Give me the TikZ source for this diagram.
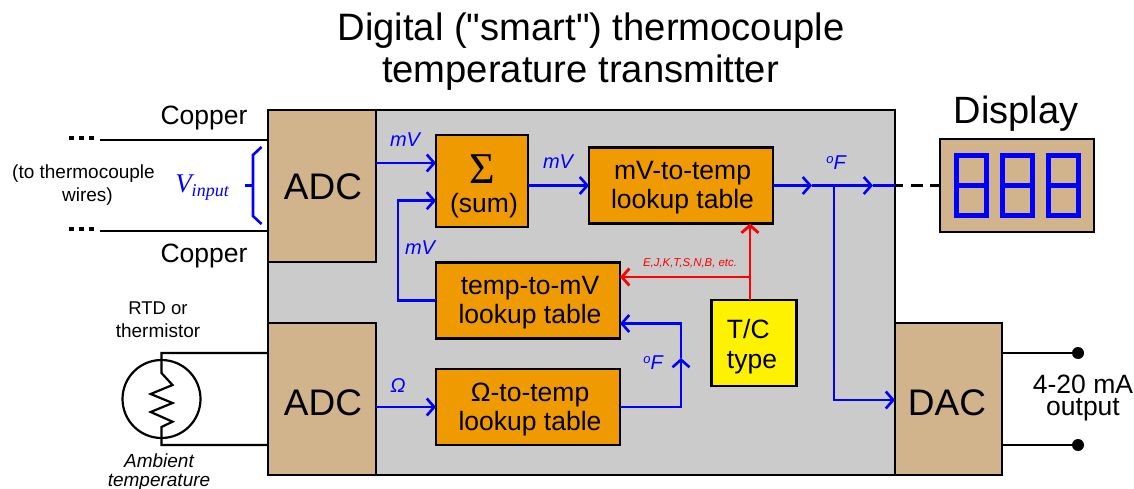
\documentclass[tikz,border=0pt]{standalone}
\usepackage{fontspec}
\setmainfont{Liberation Sans}
\newfontfamily\serifx{Liberation Serif}
\newfontfamily\plainf{Liberation Sans}
\usetikzlibrary{arrows.meta}
\definecolor{tan1}{HTML}{D2B48C}
\definecolor{org}{HTML}{EF9A00}
\definecolor{gry}{HTML}{CBCBCB}
\newcommand{\fs}[2]{\fontsize{#1pt}{#2pt}\selectfont}
\newcommand{\degF}{\raisebox{6pt}{\fs{13}{13}o}F}
\tikzset{
 box/.style={draw=black,line width=2.8pt,outer sep=0pt,inner sep=0pt,align=center,text=black},
 conv/.style={box,fill=tan1,minimum width=108pt},
 lut/.style={box,fill=org},
 lbl/.style={inner sep=0pt,anchor=base,align=center},
 big/.style={lbl,font=\fs{37}{40}},
 mid/.style={lbl,font=\fs{26.5}{29}},
 wire/.style={line width=2.2pt,black},
 sig/.style={line width=2.6pt,blue,line join=miter},
 sigtip/.style={sig,-{Straight Barb[length=7.5pt,width=17pt,line width=2.6pt]}},
 redtip/.style={line width=2.8pt,red,-{Straight Barb[length=7.5pt,width=17pt,line width=2.8pt]}},
 sg/.style={lbl,text=blue,font=\fs{20}{22}\itshape},
 term/.style={circle,fill=black,inner sep=0pt,minimum size=12pt},
 seg/.style={line width=5pt,blue,line join=miter},
}
\begin{document}
\begin{tikzpicture}[x=1pt,y=-1pt]
\useasboundingbox (0,0) rectangle (1134,489);
% body
\node[box,fill=gry,minimum width=627pt,minimum height=365pt] (body) at (581.5,292.5) {};
\node[conv,minimum height=152pt] (adca) at (322,186) {};
\node[big] (adcat) at (323,200) {ADC};
\node[conv,minimum height=152pt] (adcb) at (322,399) {};
\node[big] (adcbt) at (323,415) {ADC};
\node[conv,minimum width=107pt,minimum height=152pt] (dac) at (948.5,399) {};
\node[big] (dact) at (947,415) {DAC};
% blocks
\node[lut,minimum width=92pt,minimum height=92pt] (sum) at (482,181) {};
\node[lbl,font=\fs{44}{46}\serifx] (sigma) at (482,183) {Σ};
\node[lbl,font=\fs{26.5}{30}] (sumt) at (484,212) {(sum)};
\node[lut,minimum width=184pt,minimum height=76pt] (mvt) at (681,185.5) {};
\node[mid] (mvtt) at (682.5,208.5) {mV-to-temp\\lookup table};
\node[lut,minimum width=184pt,minimum height=76pt] (tmv) at (528,300.5) {};
\node[mid] (tmvt) at (530,323) {temp-to-mV\\lookup table};
\node[lut,minimum width=184pt,minimum height=76pt] (ohm) at (528,407) {};
\node[mid] (ohmt) at (530,430) {Ω-to-temp\\lookup table};
\node[box,fill=yellow,minimum width=85pt,minimum height=86pt] (tc) at (754,343) {};
\node[mid,align=left,font=\fs{26.5}{30}] (tct) at (752,368) {T/C\\type};
% display
\node[box,fill=tan1,minimum width=154pt,minimum height=93pt] (disp) at (1017,185.5) {};
\foreach \xa in {956.5,1002.5,1048}{
  \draw[seg] (\xa,155.5) rectangle ++(30,60);
  \draw[seg] (\xa,185.5) -- ++(30,0);
}
% thermocouple wires
\coordinate (wa) at (100,140);
\coordinate (wb) at (100,231);
\draw[wire] (wa) -- ([yshift=46pt]adca.west);
\draw[wire] (wb) -- ([yshift=-45pt]adca.west);
\foreach \yy in {138,229}{
  \draw[line width=3.6pt,black,dash pattern=on 5pt off 5pt] (69,\yy) -- (96,\yy);
}
\node[lbl,font=\fs{26.5}{30}] (c1) at (204,125) {Copper};
\node[lbl,font=\fs{26.5}{30}] (c2) at (204,262) {Copper};
\node[lbl,font=\fs{19}{23}] (tw) at (83.5,201.5) {(to thermocouple\\ \hspace*{8pt}wires)};
\node[lbl,text=blue,font=\fs{27}{30}\serifx\itshape] (vin) at (202,193) {V\raisebox{-3.5pt}{\fs{18}{20}input}};
\coordinate (b1) at (261.5,147);
\coordinate (b2) at (261.5,224);
\coordinate (b3) at (245,185.5);
\draw[line width=2.6pt,blue,line join=miter] (b1) -- (253,155) -- (253,216) -- (b2);
\draw[line width=2.6pt,blue] (b3) -- (253,185.5);
% RTD
\node[draw=black,fill=white,line width=2.2pt,circle,minimum size=78pt,inner sep=0pt] (rtd) at (161.5,399) {};
\coordinate (r1) at (161.5,353);
\coordinate (r2) at (161.5,445);
\draw[wire,line join=miter] ([yshift=46pt]adcb.west) -- (r1) -- (161.5,373) -- (172.5,385) -- (150.7,394) -- (172.5,403) -- (150.7,412) -- (172.5,421.7) -- (161.5,427) -- (r2) -- ([yshift=-46pt]adcb.west);
\node[lbl,font=\fs{19}{23}] (rt) at (158,337) {{\fs{18.5}{23}RTD or}\\thermistor};
\node[lbl,font=\fs{19}{19}\itshape] (am) at (159,486) {Ambient\\temperature};
% blue signals
\draw[sigtip] ([yshift=23pt]adca.east) -- ([yshift=18pt]sum.west);
\node[sg] (l1) at (405,147) {mV};
\draw[sigtip] (sum.east |- mvt.west) -- (mvt.west);
\node[sg] (l2) at (558,169) {mV};
\coordinate (fb) at (398,200.7);
\draw[sigtip] (tmv.west) -- (398,300.5) -- (fb) -- ([yshift=-19.7pt]sum.west);
\node[sg] (l3) at (420,254) {mV};
\draw[sigtip] ([yshift=-8pt]adcb.east) -- (ohm.west);
\node[sg] (l4) at (398,392) {Ω};
\coordinate (up) at (681,358);
\coordinate (top) at (681,323.5);
\draw[sigtip] (ohm.east) -- (681,407) -- (up);
\draw[sigtip] (up) -- (top) -- ([yshift=-23pt]tmv.east);
\node[sg] (l5) at (653,369) {\degF};
\coordinate (n1) at (812,185.5);
\coordinate (n2) at (834,185.5);
\coordinate (n3) at (873,185.5);
\draw[sigtip] (mvt.east) -- (n1);
\draw[sig] (n1) -- (n2);
\draw[sigtip] (n2) -- (n3);
\draw[sig] (n3) -- (body.east |- n3);
\node[sg] (l6) at (836,170) {\degF};
\draw[sigtip] (n2) -- (834,400) -- ([yshift=-1pt]dac.west);
\draw[wire,dash pattern=on 12pt off 7.5pt,dash phase=4pt] (body.east |- n3) -- (disp.west);
% red
\coordinate (rj) at (750,277);
\draw[redtip] (tc.north -| rj) -- (mvt.south -| rj);
\draw[redtip] (rj) -- (tmv.east |- rj);
\node[lbl,text=red,font=\fs{11.4}{13}\itshape] (rl) at (690,266) {E,J,K,T,S,N,B, etc.};
% outputs
\node[term] (o1) at (1078,353) {};
\node[term] (o2) at (1078,445) {};
\draw[wire] (dac.east |- o1) -- (o1);
\draw[wire] (dac.east |- o2) -- (o2);
\node[lbl,font=\fs{26.5}{22}] (out) at (1083,415) {4-20 mA\\output};
% titles
\node[lbl,font=\fs{38.2}{42}\plainf] (title) at (591,83) {Digital ("smart") thermocouple\\temperature transmitter\hspace*{21pt}};
\node[lbl,font=\fs{38}{40}] (dt) at (1016,124) {Display};
\end{tikzpicture}
\end{document}
